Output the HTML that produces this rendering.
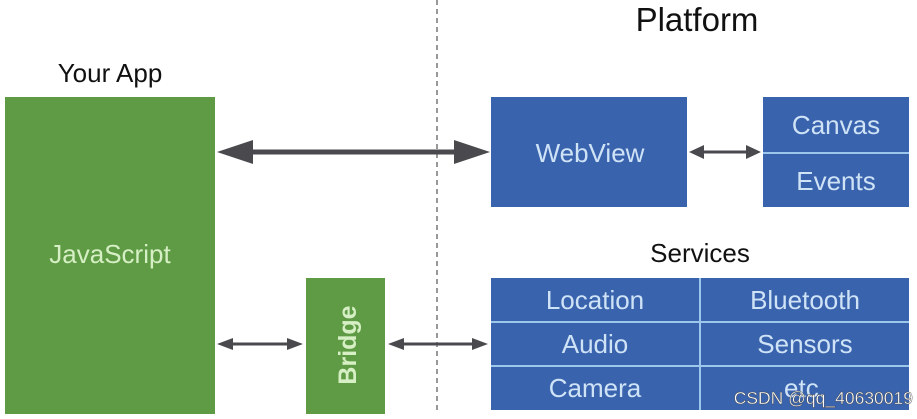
<!DOCTYPE html>
<html><head><style>
body{margin:0;width:917px;height:414px;background:#fff;overflow:hidden;font-family:"Liberation Sans",sans-serif}
</style></head><body>
<svg width="917" height="414" viewBox="0 0 917 414" font-family="Liberation Sans, sans-serif">
<line x1="437" y1="0" x2="437" y2="414" stroke="#777" stroke-width="1.5" stroke-dasharray="5,4"/>
<text x="697" y="31" font-size="33" text-anchor="middle" fill="#111">Platform</text>
<text x="110" y="82" font-size="26" text-anchor="middle" fill="#111">Your App</text>
<text x="700" y="262" font-size="26" text-anchor="middle" fill="#111">Services</text>
<rect x="5" y="97" width="210" height="317" fill="#5f9b45"/>
<text x="110" y="263" font-size="26" text-anchor="middle" fill="#d6efc4">JavaScript</text>
<rect x="306" y="278" width="79" height="136" fill="#5f9b45"/>
<text transform="translate(356,345) rotate(-90)" font-size="25" font-weight="bold" text-anchor="middle" fill="#d6efc4">Bridge</text>
<rect x="491" y="97" width="196" height="110" fill="#3a63ad"/>
<text x="590" y="162" font-size="26" text-anchor="middle" fill="#cfe3f7">WebView</text>
<rect x="763" y="97" width="146" height="110" fill="#3a63ad"/>
<line x1="763" y1="153" x2="909" y2="153" stroke="#9cc6ec" stroke-width="2"/>
<text x="836" y="134" font-size="26" text-anchor="middle" fill="#cfe3f7">Canvas</text>
<text x="836" y="190" font-size="26" text-anchor="middle" fill="#cfe3f7">Events</text>
<rect x="491" y="278" width="418" height="132" fill="#3a63ad"/>
<g stroke="#9cc6ec" stroke-width="2"><line x1="491" y1="322" x2="909" y2="322"/><line x1="491" y1="366" x2="909" y2="366"/><line x1="700" y1="278" x2="700" y2="410"/></g>
<g font-size="26" text-anchor="middle" fill="#cfe3f7">
<text x="595" y="309">Location</text><text x="805" y="309">Bluetooth</text>
<text x="595" y="353">Audio</text><text x="805" y="353">Sensors</text>
<text x="595" y="397">Camera</text><text x="805" y="397">etc.</text></g>
<text x="913" y="404" font-size="17.5" text-anchor="end" fill="#fff" stroke="#444" stroke-width="0.4">CSDN @qq_40630019</text>
<g fill="#4a4a4e" stroke="#4a4a4e">
<line x1="250" y1="152" x2="455" y2="152" stroke-width="5"/>
<polygon points="217,152 253,140 253,164" stroke="none"/><polygon points="490,152 454,140 454,164" stroke="none"/>
<line x1="700" y1="152" x2="750" y2="152" stroke-width="3"/>
<polygon points="689,152 704,145 704,159" stroke="none"/><polygon points="761,152 746,145 746,159" stroke="none"/>
<line x1="228" y1="344" x2="292" y2="344" stroke-width="3"/>
<polygon points="217,344 233,338 233,350" stroke="none"/><polygon points="303,344 287,338 287,350" stroke="none"/>
<line x1="399" y1="344" x2="477" y2="344" stroke-width="3"/>
<polygon points="388,344 404,338 404,350" stroke="none"/><polygon points="488,344 472,338 472,350" stroke="none"/>
</g>
</svg>
</body></html>
